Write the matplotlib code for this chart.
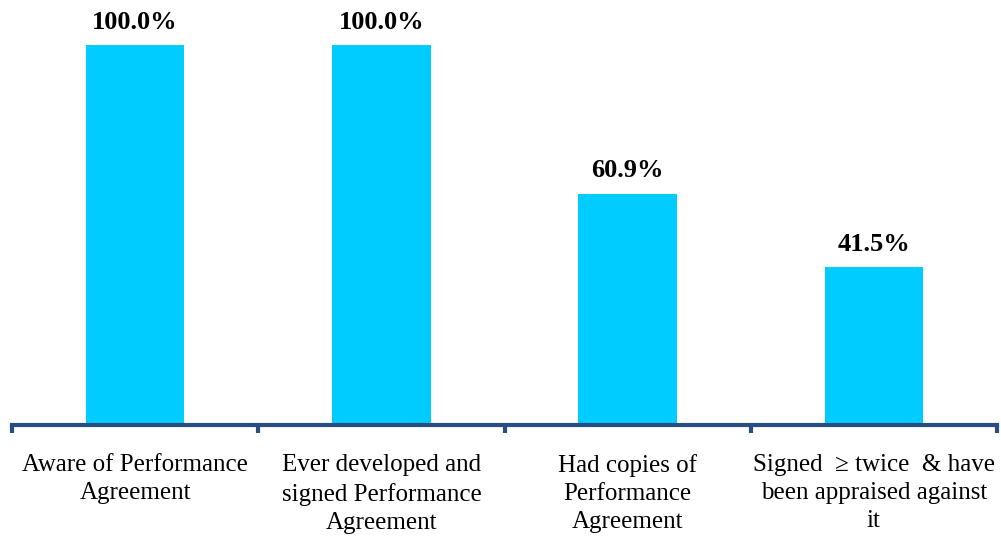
import matplotlib
matplotlib.use('Agg')
import matplotlib.pyplot as plt

categories = ['Aware of Performance\nAgreement',
              'Ever developed and\nsigned Performance\nAgreement',
              'Had copies of\nPerformance\nAgreement',
              'Signed  \u2265 twice  & have\nbeen appraised against\nit']
values = [100.0, 100.0, 60.9, 41.5]

plt.rcParams['font.family'] = ['Liberation Serif', 'DejaVu Serif']

fig = plt.figure(figsize=(10.01, 5.39), dpi=100)
ax = fig.add_axes([12 / 1001, (539 - 425) / 539, 985 / 1001, 380 / 539])

x = list(range(len(values)))
bars = ax.bar(x, values, width=0.4, color='#00CCFF')
for xi, v in zip(x, values):
    ax.annotate(f'{v:.1f}%', (xi, v), xytext=(0, 8), textcoords='offset points',
                ha='center', va='bottom', fontsize=19, fontweight='bold',
                annotation_clip=False)

ax.set_xlim(-0.5, len(values) - 0.5)
ax.set_ylim(0, 100)
for s in ['top', 'right', 'left']:
    ax.spines[s].set_visible(False)
ax.spines['bottom'].set_color('#2A4D80')
ax.spines['bottom'].set_linewidth(3)
ax.set_yticks([])

ax.set_xticks(x)
ax.set_xticklabels(categories, fontsize=18)
ax.set_xticks([i - 0.5 for i in range(len(values) + 1)], minor=True)
ax.tick_params(axis='x', which='major', length=0, pad=21)
ax.tick_params(axis='x', which='minor', length=6, width=3, color='#2A4D80', direction='out')
for lbl in ax.get_xticklabels():
    lbl.set_linespacing(1.36)

fig.savefig('out.png', dpi=100)
